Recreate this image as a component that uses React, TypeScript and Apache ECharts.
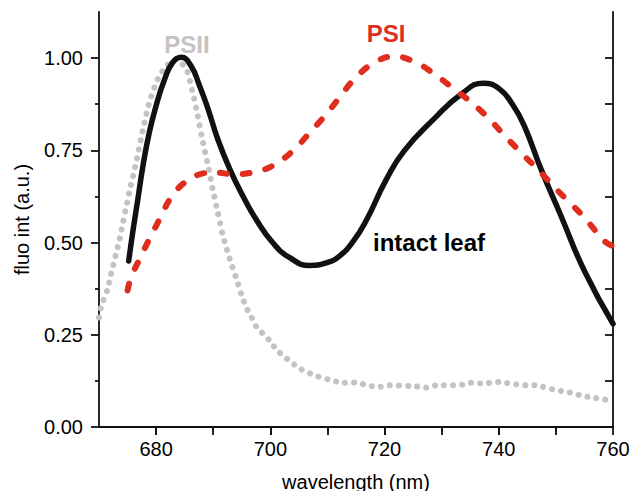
import React, { useEffect, useRef } from "react";
import * as echarts from "echarts";

// ---- data ----
const intactLeaf: [number, number][] = [
  [675.2, 0.45], [675.9, 0.527], [676.8, 0.617], [677.7, 0.708], [678.8, 0.798],
  [680.0, 0.871], [681.5, 0.943], [682.9, 0.988], [684.4, 1.002], [686.1, 0.979],
  [687.6, 0.925], [689.1, 0.862], [690.8, 0.78], [692.9, 0.699], [695.2, 0.626],
  [697.5, 0.563], [700.4, 0.5], [703.4, 0.459], [706.9, 0.438], [709.8, 0.445],
  [712.0, 0.462], [714.5, 0.503], [716.9, 0.563], [720.2, 0.668], [723.4, 0.748],
  [728.7, 0.836], [733.4, 0.902], [737.3, 0.932], [740.0, 0.918], [742.5, 0.872],
  [744.5, 0.815], [747.4, 0.699], [750.9, 0.572], [755.0, 0.423], [760.0, 0.28],
];

const psi: [number, number][] = [
  [675.0, 0.37], [675.6, 0.405], [677.1, 0.455], [678.8, 0.509], [680.6, 0.563],
  [682.6, 0.622], [685.0, 0.663], [687.6, 0.685], [690.5, 0.69], [693.4, 0.685],
  [696.9, 0.69], [700.4, 0.708], [703.9, 0.748], [706.9, 0.798], [709.8, 0.848],
  [712.1, 0.893], [714.7, 0.943], [718.2, 0.988], [721.7, 1.005], [725.5, 0.988],
  [728.7, 0.957], [732.2, 0.916], [735.2, 0.88], [738.4, 0.834], [741.3, 0.785],
  [744.2, 0.739], [747.1, 0.694], [749.8, 0.649], [752.7, 0.604], [755.0, 0.568],
  [758.5, 0.504], [760.0, 0.49],
];

const psii: [number, number][] = [
  [670.0, 0.297], [670.4, 0.328], [671.5, 0.373], [672.1, 0.414], [673.6, 0.509],
  [675.3, 0.636], [676.5, 0.717], [677.7, 0.807], [678.8, 0.88], [680.3, 0.943],
  [681.8, 0.979], [683.5, 0.997], [685.3, 0.97], [686.4, 0.907], [687.3, 0.843],
  [688.2, 0.771], [689.1, 0.708], [689.9, 0.645], [690.8, 0.581], [691.7, 0.518],
  [692.9, 0.455], [694.0, 0.405], [694.9, 0.36], [695.8, 0.323], [696.6, 0.301],
  [697.8, 0.265], [699.0, 0.25], [699.9, 0.233], [701.3, 0.206], [703.4, 0.179],
  [705.2, 0.158], [707.6, 0.141], [710.1, 0.129], [712.7, 0.12], [715.2, 0.121],
  [716.8, 0.113], [719.1, 0.109], [720.9, 0.113], [724.5, 0.111], [726.1, 0.109],
  [727.9, 0.106], [729.0, 0.113], [732.0, 0.113], [733.7, 0.115], [735.2, 0.12],
  [736.9, 0.118], [738.7, 0.12], [740.1, 0.122], [741.9, 0.118], [743.3, 0.115],
  [744.8, 0.113], [746.3, 0.113], [747.7, 0.109], [748.9, 0.104], [750.3, 0.1],
  [751.8, 0.094], [753.3, 0.093], [754.1, 0.086], [755.6, 0.082], [756.8, 0.079],
  [758.2, 0.075], [760.0, 0.072],
];

const xMajorTicks = [680, 700, 720, 740, 760];
const xMinorTicks = [690, 710, 730, 750];
const xTopTicks = [680, 690, 700, 710, 720, 730, 740, 750];
const yMajorTicks = [0, 0.25, 0.5, 0.75, 1.0];
const yMinorTicks = [0.125, 0.375, 0.625, 0.875];
const yRightTicks = [0.125, 0.25, 0.375, 0.5, 0.625, 0.75, 0.875, 1.0];

const FONT = "'Liberation Sans', Arial, Helvetica, sans-serif";
const GRAY = "#c6c2c2";
const RED = "#df2e1e";
const BLACK = "#111111";

export default function App() {
  const ref = useRef<HTMLDivElement>(null);

  useEffect(() => {
    if (!ref.current) return;
    const chart = echarts.init(ref.current, undefined, { renderer: "svg" });
    const lineSt = { color: "#111", width: 1.8 };
    const axisLine = { show: true, lineStyle: lineSt };
    const xBase = { type: "value" as const, min: 670, max: 760, splitLine: { show: false } };
    const yBase = { type: "value" as const, min: 0, max: 1.125, splitLine: { show: false } };

    chart.setOption({
      animation: false,
      backgroundColor: "#fff",
      grid: { left: 99, right: 20, top: 12, bottom: 64, containLabel: false, outerBoundsMode: "none" },
      xAxis: [
        {
          ...xBase,
          position: "bottom",
          axisLine,
          axisTick: { show: true, length: 8, customValues: xMajorTicks, lineStyle: lineSt },
          axisLabel: {
            show: true, customValues: xMajorTicks, margin: 12, color: "#000",
            fontSize: 20, fontFamily: FONT,
          },
          name: "wavelength (nm)",
          nameLocation: "middle",
          nameGap: 45,
          nameTextStyle: { color: "#000", fontSize: 20, fontFamily: FONT },
        },
        {
          ...xBase,
          position: "bottom",
          axisLine: { show: false },
          axisTick: { show: true, length: 4, customValues: xMinorTicks, lineStyle: lineSt },
          axisLabel: { show: false },
        },
        {
          ...xBase,
          position: "top",
          axisLine,
          axisTick: { show: true, inside: true, length: 8, customValues: xTopTicks, lineStyle: lineSt },
          axisLabel: { show: false },
        },
      ],
      yAxis: [
        {
          ...yBase,
          position: "left",
          axisLine,
          axisTick: { show: true, length: 8, customValues: yMajorTicks, lineStyle: lineSt },
          axisLabel: {
            show: true, customValues: yMajorTicks, margin: 16, color: "#000",
            fontSize: 20, fontFamily: FONT,
            formatter: (v: number) => v.toFixed(2),
          },
          name: "fluo int (a.u.)",
          nameLocation: "middle",
          nameGap: 67,
          nameTextStyle: { color: "#000", fontSize: 20, fontFamily: FONT },
        },
        {
          ...yBase,
          position: "left",
          axisLine: { show: false },
          axisTick: { show: true, length: 4, customValues: yMinorTicks, lineStyle: lineSt },
          axisLabel: { show: false },
        },
        {
          ...yBase,
          position: "right",
          axisLine,
          axisTick: { show: true, inside: true, length: 8, customValues: yRightTicks, lineStyle: lineSt },
          axisLabel: { show: false },
        },
      ],
      series: [
        {
          name: "PSII",
          type: "line",
          data: psii,
          smooth: 0.2,
          symbol: "none",
          lineStyle: { color: GRAY, width: 6, type: [0.1, 9], cap: "round" },
          z: 2,
        },
        {
          name: "intact leaf",
          type: "line",
          data: intactLeaf,
          smooth: 0.5,
          symbol: "none",
          lineStyle: { color: BLACK, width: 5.5, cap: "round" },
          z: 3,
        },
        {
          name: "PSI",
          type: "line",
          data: psi,
          smooth: 0.4,
          symbol: "none",
          lineStyle: { color: RED, width: 6, type: [7, 16], cap: "round" },
          z: 4,
        },
      ],
      graphic: [
        {
          type: "text", x: 187, y: 44, z: 10,
          style: { text: "PSII", fill: GRAY, font: `bold 24px ${FONT}`, textAlign: "center", textVerticalAlign: "middle" },
        },
        {
          type: "text", x: 386, y: 33, z: 10,
          style: { text: "PSI", fill: RED, font: `bold 24px ${FONT}`, textAlign: "center", textVerticalAlign: "middle" },
        },
        {
          type: "text", x: 429, y: 242, z: 10,
          style: { text: "intact leaf", fill: "#000", font: `bold 24px ${FONT}`, textAlign: "center", textVerticalAlign: "middle" },
        },
      ],
    });
    return () => chart.dispose();
  }, []);

  return (
    <div
      ref={ref}
      style={{ position: "fixed", left: 0, top: 0, width: 633, height: 491, background: "#fff" }}
    />
  );
}
